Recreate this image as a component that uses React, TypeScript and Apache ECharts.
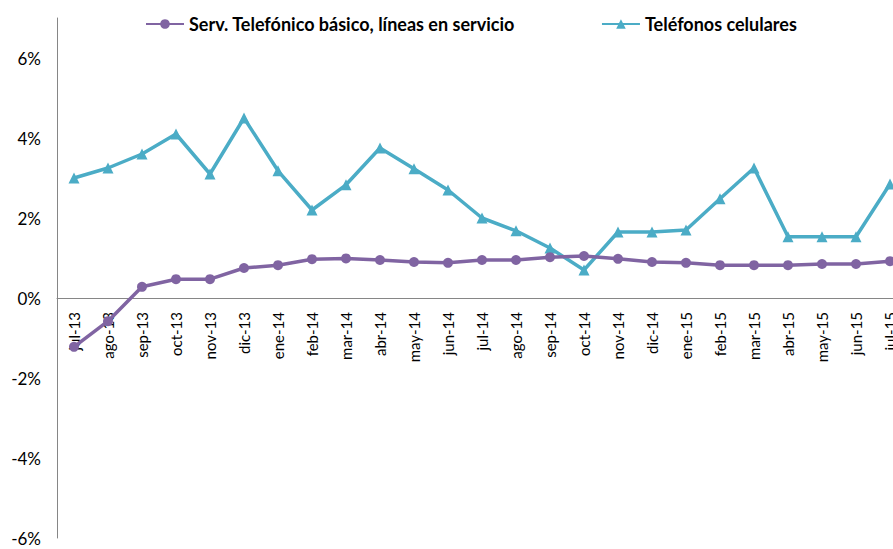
import React, { useEffect, useRef } from "react";
import * as echarts from "echarts";

const categories = [
  "jul-13", "ago-13", "sep-13", "oct-13", "nov-13", "dic-13",
  "ene-14", "feb-14", "mar-14", "abr-14", "may-14", "jun-14",
  "jul-14", "ago-14", "sep-14", "oct-14", "nov-14", "dic-14",
  "ene-15", "feb-15", "mar-15", "abr-15", "may-15", "jun-15", "jul-15",
];

const basicoValues = [
  -1.22, -0.58, 0.28, 0.47, 0.47, 0.75,
  0.82, 0.97, 0.99, 0.95, 0.9, 0.88,
  0.95, 0.95, 1.02, 1.05, 0.98, 0.9,
  0.88, 0.82, 0.82, 0.82, 0.85, 0.85, 0.92,
];

const celularesValues = [
  3.0, 3.25, 3.6, 4.1, 3.1, 4.5,
  3.18, 2.2, 2.83, 3.75, 3.23, 2.7,
  2.0, 1.68, 1.25, 0.7, 1.65, 1.65,
  1.7, 2.48, 3.25, 1.53, 1.53, 1.53, 2.85,
];

const seriesNames = [
  "Serv. Telefónico básico, líneas en servicio",
  "Teléfonos celulares",
];

const FONT = "Lato, 'Open Sans', sans-serif";

export default function App() {
  const ref = useRef<HTMLDivElement>(null);
  useEffect(() => {
    if (!ref.current) return;
    const chart = echarts.init(ref.current, null, { renderer: "svg" });
    chart.setOption({
      animation: false,
      backgroundColor: "#ffffff",
      textStyle: { fontFamily: FONT },
      legend: {
        top: 10,
        left: 140,
        itemWidth: 38,
        itemHeight: 12,
        itemGap: 86,
        textStyle: { fontFamily: FONT, fontWeight: "bold", fontSize: 18, color: "#000" },
        data: seriesNames,
      },
      grid: {
        left: 57,
        top: 18,
        width: 850,
        bottom: 11,
        containLabel: false,
        outerBoundsMode: "none",
      },
      xAxis: {
        type: "category",
        data: categories,
        boundaryGap: true,
        position: "bottom",
        offset: -240,
        z: 1,
        axisLine: { onZero: false, lineStyle: { color: "#868686", width: 1 } },
        axisTick: { show: false },
        axisLabel: { rotate: 90, fontFamily: FONT, fontSize: 15, color: "#000", margin: 14, interval: 0 },
        splitLine: { show: false },
      },
      yAxis: {
        type: "value",
        min: -6,
        max: 7,
        interval: 2,
        axisLine: { show: true, lineStyle: { color: "#868686", width: 1 } },
        axisTick: { show: false },
        splitLine: { show: false },
        axisLabel: {
          showMaxLabel: false,
          fontFamily: FONT,
          fontSize: 17,
          color: "#000",
          margin: 16,
          formatter: (v: number) => (v === 7 ? "" : v + "%"),
        },
      },
      series: [
        {
          name: seriesNames[0],
          type: "line",
          data: basicoValues,
          symbol: "circle",
          symbolSize: 10,
          lineStyle: { color: "#8064A2", width: 3.5 },
          itemStyle: { color: "#8064A2" },
          z: 5,
        },
        {
          name: seriesNames[1],
          type: "line",
          data: celularesValues,
          symbol: "triangle",
          symbolSize: 11,
          lineStyle: { color: "#4BACC6", width: 3.5 },
          itemStyle: { color: "#4BACC6" },
          z: 4,
        },
      ],
    });
    return () => chart.dispose();
  }, []);
  return (
    <div
      ref={ref}
      style={{ position: "fixed", left: 0, top: 0, width: 893, height: 549, background: "#fff" }}
    />
  );
}
